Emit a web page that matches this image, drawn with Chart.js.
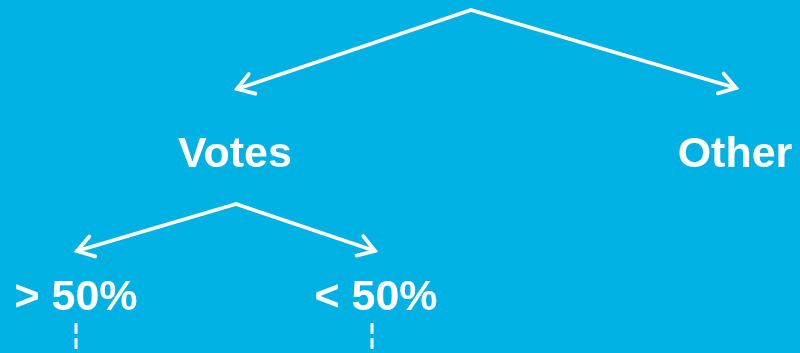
<!DOCTYPE html>
<html>
<head>
<meta charset="utf-8">
<script src="https://cdn.jsdelivr.net/npm/chart.js@4/dist/chart.umd.min.js"></script>
<style>
html,body{margin:0;padding:0;background:#00B2E3;}
#wrap{width:800px;height:353px;}
</style>
</head>
<body>
<div id="wrap"><canvas id="c" width="800" height="353"></canvas></div>
<script>
// Node labels and their positions (x centre, text baseline) in diagram units
const nodeLabels = ['Votes', 'Other', '> 50%', '< 50%'];
const nodeX = [235, 735, 76, 376];
const nodeY = [167, 167, 310, 310];

// Arrow edges: start and tip points
const edgeFromX = [471, 471, 236, 236];
const edgeFromY = [10, 10, 204, 204];
const edgeToX = [237, 736, 77, 375];
const edgeToY = [89, 88, 251, 251];

// Dashed continuation lines
const dashX = [76, 372];
const dashTop = [323, 323];
const dashBottom = [353, 353];

const WHITE = '#ffffff';
const datasets = [];

edgeFromX.forEach((fx, i) => {
  datasets.push({
    data: [{x: fx, y: edgeFromY[i]}, {x: edgeToX[i], y: edgeToY[i]}],
    showLine: true, borderColor: WHITE, borderWidth: 3.8, pointRadius: 0,
    borderCapStyle: 'round'
  });
  // open arrowhead (chevron) built from the edge direction
  const dx = fx - edgeToX[i], dy = edgeFromY[i] - edgeToY[i];
  const len = Math.hypot(dx, dy);
  const ux = dx / len, uy = dy / len;
  const a = 33 * Math.PI / 180, L = 19;
  const b1 = {x: edgeToX[i] + L * (ux * Math.cos(a) - uy * Math.sin(a)), y: edgeToY[i] + L * (ux * Math.sin(a) + uy * Math.cos(a))};
  const b2 = {x: edgeToX[i] + L * (ux * Math.cos(-a) - uy * Math.sin(-a)), y: edgeToY[i] + L * (ux * Math.sin(-a) + uy * Math.cos(-a))};
  datasets.push({
    data: [b1, {x: edgeToX[i], y: edgeToY[i]}, b2],
    showLine: true, borderColor: WHITE, borderWidth: 3.8, pointRadius: 0,
    borderCapStyle: 'round', borderJoinStyle: 'miter'
  });
});

dashX.forEach((x, i) => {
  datasets.push({
    data: [{x: x, y: dashTop[i]}, {x: x, y: dashBottom[i]}],
    showLine: true, borderColor: WHITE, borderWidth: 3, pointRadius: 0,
    borderDash: [11, 4]
  });
});

const bgPlugin = {
  id: 'bg',
  beforeDraw(chart) {
    const ctx = chart.ctx;
    ctx.save();
    ctx.fillStyle = '#00B2E3';
    ctx.fillRect(0, 0, chart.width, chart.height);
    ctx.restore();
  }
};

const labelPlugin = {
  id: 'nodeLabels',
  afterDatasetsDraw(chart) {
    const ctx = chart.ctx;
    const xs = chart.scales.x, ys = chart.scales.y;
    ctx.save();
    ctx.fillStyle = WHITE;
    ctx.font = 'bold 43px "Liberation Sans", Arial, sans-serif';
    ctx.textAlign = 'center';
    ctx.textBaseline = 'alphabetic';
    nodeLabels.forEach((t, i) => {
      ctx.fillText(t, xs.getPixelForValue(nodeX[i]), ys.getPixelForValue(nodeY[i]));
    });
    ctx.restore();
  }
};

new Chart(document.getElementById('c'), {
  type: 'scatter',
  data: {datasets},
  options: {
    responsive: false,
    animation: false,
    layout: {padding: 0},
    plugins: {legend: {display: false}, tooltip: {enabled: false}},
    scales: {
      x: {type: 'linear', min: 0, max: 800, display: false},
      y: {type: 'linear', min: 0, max: 353, reverse: true, display: false}
    },
    elements: {line: {tension: 0}}
  },
  plugins: [bgPlugin, labelPlugin]
});
</script>
</body>
</html>
